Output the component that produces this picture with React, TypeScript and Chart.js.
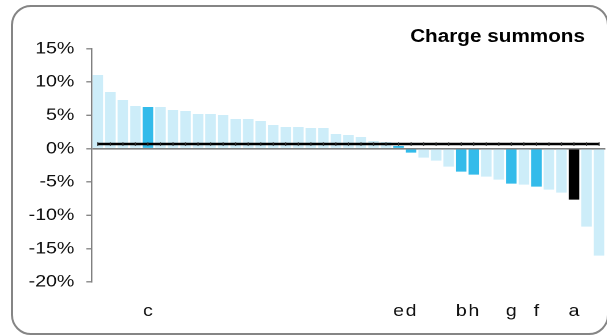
import React, { useEffect, useRef } from 'react';
import { Chart, registerables } from 'chart.js';

Chart.register(...registerables);

// Category labels (only a few of the 41 areas are named)
const categories: string[] = [
  '', '', '', '', 'c', '', '', '', '', '', '',
  '', '', '', '', '', '', '', '', '', '',
  '', '', '', 'e', 'd', '', '', '', 'b', 'h',
  '', '', 'g', '', 'f', '', '', 'a', '', '',
];

// Change (%) per area, sorted descending
const values: number[] = [
  11.05, 8.5, 7.3, 6.4, 6.25, 6.25, 5.8, 5.65, 5.2, 5.2, 5.05,
  4.45, 4.45, 4.15, 3.55, 3.25, 3.25, 3.1, 3.1, 2.2, 2.05,
  1.75, 1.15, 1.0, 0.4, -0.6, -1.35, -1.8, -2.7, -3.45, -3.9,
  -4.2, -4.65, -5.25, -5.4, -5.7, -6.15, -6.6, -7.65, -11.7, -16.05,
];

// Overall average line
const averageValue = 0.7;
const averageLine: number[] = categories.map(() => averageValue);

const highlighted: string[] = ['c', 'e', 'd', 'b', 'h', 'g', 'f'];
const emphasised: string[] = ['a'];

const yMin = -20;
const yMax = 15;
const yStep = 5;

const title = 'Charge summons';

const LIGHT = '#cdedf9';
const MID = '#33bbea';
const DARK = '#000000';
const GREY = '#808080';
const FONT = "'Liberation Sans', Arial, sans-serif";

export default function App() {
  const ref = useRef<HTMLCanvasElement>(null);

  useEffect(() => {
    if (!ref.current) return;
    const barColors = categories.map((c) =>
      emphasised.includes(c) ? DARK : highlighted.includes(c) ? MID : LIGHT
    );
    const chart = new Chart(ref.current, {
      type: 'bar',
      data: {
        labels: categories,
        datasets: [
          {
            type: 'line',
            data: averageLine,
            borderColor: '#000',
            borderWidth: 2.5,
            pointStyle: 'line',
            rotation: 90,
            pointRadius: 1.8,
            pointBorderWidth: 1,
            pointBorderColor: '#333',
            pointBackgroundColor: '#333',
            order: 0,
          } as any,
          {
            type: 'bar',
            data: values,
            backgroundColor: barColors,
            borderWidth: 0,
            barPercentage: 0.84,
            categoryPercentage: 1,
            order: 1,
          },
        ],
      },
      options: {
        animation: false,
        responsive: true,
        maintainAspectRatio: false,
        devicePixelRatio: 2,
        layout: { padding: { top: 48.7, bottom: 0, left: 0, right: 7.3 } },
        plugins: {
          legend: { display: false },
          tooltip: { enabled: false },
          title: { display: false },
        },
        scales: {
          x: {
            type: 'category',
            offset: true,
            grid: { display: false, drawTicks: false },
            border: { display: false },
            ticks: {
              autoSkip: false,
              maxRotation: 0,
              minRotation: 0,
              padding: 19,
              color: '#111',
              font: { family: FONT, size: 17 },
            },
            afterFit: (scale: any) => {
              scale.height = 54;
            },
          },
          y: {
            min: yMin,
            max: yMax,
            ticks: {
              stepSize: yStep,
              padding: 10.5,
              color: '#111',
              font: { family: FONT, size: 17 },
              callback: (v: any) => `${v}%`,
            },
            grid: {
              color: (ctx: any) => (ctx.tick && ctx.tick.value === 0 ? GREY : 'rgba(0,0,0,0)'),
              lineWidth: 1.6,
              tickColor: GREY,
              tickLength: 4.5,
              tickWidth: 1.3,
              drawTicks: true,
            },
            border: { display: true, color: GREY, width: 1.3 },
            afterFit: (scale: any) => {
              scale.width = 79.6;
            },
          },
        },
      },
    });
    return () => chart.destroy();
  }, []);

  return (
    <div
      style={{
        position: 'fixed',
        left: 0,
        top: 0,
        width: 607,
        height: 336,
        overflow: 'hidden',
        background: '#fff',
      }}
    >
      <div
        style={{
          position: 'absolute',
          left: 11,
          top: 5,
          width: 598,
          height: 330,
          boxSizing: 'border-box',
          border: '2px solid #858585',
          borderRadius: 20,
        }}
      />
      <div
        style={{
          position: 'absolute',
          left: 0,
          top: 0,
          width: 540,
          height: 336,
          transform: 'scaleX(1.15)',
          transformOrigin: '0 0',
        }}
      >
        <canvas ref={ref} />
        <div
          style={{
            position: 'absolute',
            right: 540 - 508.7,
            top: 26.5,
            fontFamily: FONT,
            fontWeight: 'bold',
            fontSize: 18,
            lineHeight: '18px',
            whiteSpace: 'nowrap',
            color: '#000',
          }}
        >
          {title}
        </div>
      </div>
    </div>
  );
}
